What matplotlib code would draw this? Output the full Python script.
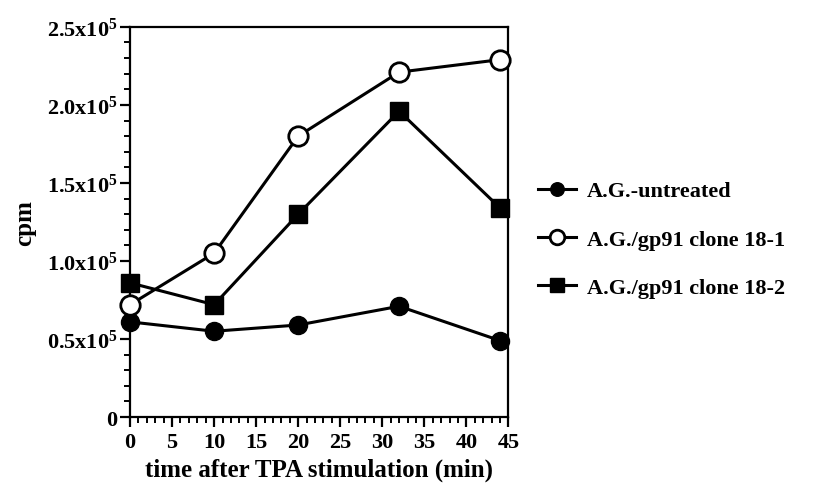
import matplotlib
matplotlib.use("Agg")
from matplotlib import pyplot as plt
from matplotlib.ticker import MultipleLocator, FixedLocator

plt.rcParams['font.family'] = 'Liberation Serif'
plt.rcParams['font.weight'] = 'bold'
plt.rcParams['mathtext.default'] = 'regular'

# time points (min) and counts (cpm)
time = [0, 10, 20, 32, 44]
untreated = [0.61e5, 0.55e5, 0.59e5, 0.71e5, 0.49e5]
clone_18_1 = [0.72e5, 1.05e5, 1.80e5, 2.21e5, 2.29e5]
clone_18_2 = [0.86e5, 0.72e5, 1.30e5, 1.96e5, 1.34e5]

y_ticks = [0, 0.5e5, 1.0e5, 1.5e5, 2.0e5, 2.5e5]
y_labels = ['0', '0.5x10$^5$', '1.0x10$^5$', '1.5x10$^5$', '2.0x10$^5$', '2.5x10$^5$']

fig = plt.figure(figsize=(8.39, 4.89), dpi=100)
ax = fig.add_axes([0.155, 0.145, 0.451, 0.798])

lw = 2.2
ax.plot(time, untreated, '-o', color='black', lw=lw, ms=13,
        mfc='black', mec='black', label='A.G.-untreated', clip_on=False, zorder=3)
ax.plot(time, clone_18_1, '-o', color='black', lw=lw, ms=14,
        mfc='white', mec='black', mew=2, label='A.G./gp91 clone 18-1', clip_on=False, zorder=3)
ax.plot(time, clone_18_2, '-s', color='black', lw=lw, ms=13,
        mfc='black', mec='black', label='A.G./gp91 clone 18-2', clip_on=False, zorder=3)

ax.set_xlim(0, 45)
ax.set_ylim(0, 2.5e5)
ax.xaxis.set_major_locator(MultipleLocator(5))
ax.xaxis.set_minor_locator(MultipleLocator(1))
ax.yaxis.set_major_locator(FixedLocator(y_ticks))
ax.yaxis.set_minor_locator(MultipleLocator(0.1e5))
ax.set_yticklabels(y_labels)

for side in ['left', 'right', 'top', 'bottom']:
    ax.spines[side].set_linewidth(1.6)
ax.tick_params(which='major', direction='out', length=7, width=1.6, labelsize=16)
ax.tick_params(which='minor', direction='out', length=4, width=1.4)
ax.tick_params(axis='y', pad=2)

ax.set_xlabel('time after TPA stimulation (min)', fontsize=18, fontweight='bold', labelpad=4)
ax.set_ylabel('cpm', fontsize=18, fontweight='bold', labelpad=8)

ax.legend(loc='center left', bbox_to_anchor=(1.025, 0.455), frameon=False,
          fontsize=16, handlelength=1.7, handletextpad=0.5, labelspacing=1.25,
          markerscale=0.75)

fig.savefig('out.png', dpi=100)
